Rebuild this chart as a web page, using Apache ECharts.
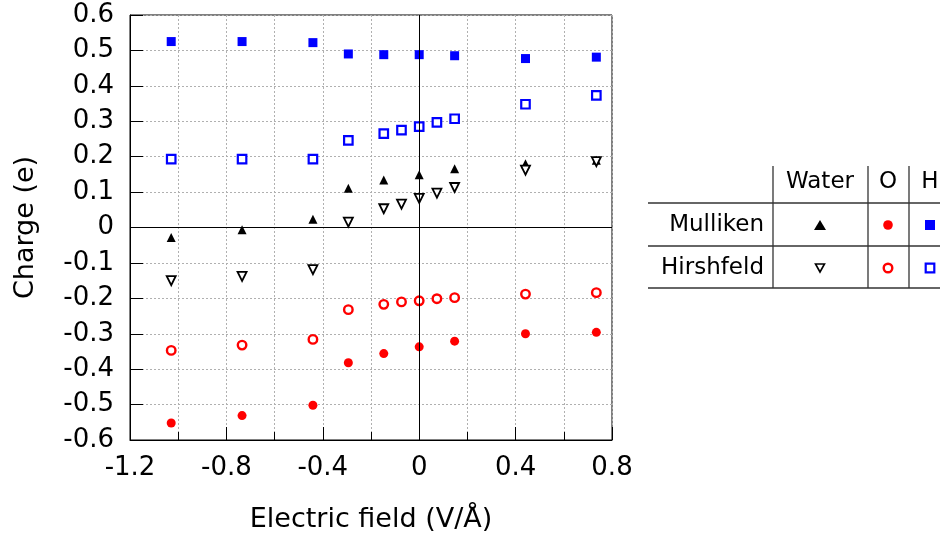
<!DOCTYPE html>
<html>
<head>
<meta charset="utf-8">
<script src="https://cdn.jsdelivr.net/npm/echarts@6/dist/echarts.min.js"></script>
<style>html,body{margin:0;padding:0;background:#fff;}#c{width:940px;height:535px;}</style>
</head>
<body>
<div id="c"></div>
<script>
// ---- data ----
var fieldMulliken = [-1.029, -0.735, -0.441, -0.294, -0.147, 0, 0.147, 0.441, 0.735];
var fieldHirshfeld = [-1.029, -0.735, -0.441, -0.294, -0.147, -0.0735, 0, 0.0735, 0.147, 0.441, 0.735];

var mullikenWater = [-0.028, -0.006, 0.023, 0.111, 0.134, 0.149, 0.166, 0.180, 0.190];
var mullikenO     = [-0.552, -0.531, -0.502, -0.382, -0.356, -0.337, -0.321, -0.300, -0.296];
var mullikenH     = [0.525, 0.525, 0.522, 0.490, 0.488, 0.488, 0.485, 0.477, 0.481];

var hirshfeldWater = [-0.150, -0.138, -0.119, 0.015, 0.053, 0.066, 0.082, 0.097, 0.113, 0.162, 0.186];
var hirshfeldO     = [-0.347, -0.332, -0.316, -0.232, -0.217, -0.210, -0.207, -0.201, -0.198, -0.188, -0.184];
var hirshfeldH     = [0.193, 0.193, 0.193, 0.246, 0.265, 0.275, 0.285, 0.297, 0.307, 0.348, 0.373];

var xTickLabels = ['-1.2', '-0.8', '-0.4', '0', '0.4', '0.8'];
var yTickLabels = ['-0.6', '-0.5', '-0.4', '-0.3', '-0.2', '-0.1', '0', '0.1', '0.2', '0.3', '0.4', '0.5', '0.6'];

var tableRows = ['Mulliken', 'Hirshfeld'];
var tableCols = ['Water', 'O', 'H'];

function pairs(xs, ys) { return xs.map(function (x, i) { return [x, ys[i]]; }); }
function findLabel(list, v) {
  for (var i = 0; i < list.length; i++) { if (Math.abs(parseFloat(list[i]) - v) < 1e-6) return list[i]; }
  return '';
}

var FONT = 'DejaVu Sans';
var BLUE = '#0000ff', RED = '#ff0000', BLACK = '#000000';
var gridLine = { show: true, lineStyle: { color: '#b0b0b0', type: [2, 2], width: 1 } };

var chart = echarts.init(document.getElementById('c'), null, { renderer: 'canvas' });

// legend table graphics
var TL = { x0: 648, x1: 940, hy: [203, 246, 288], vx: [773, 868, 909], vTop: 166,
           colX: [820, 888, 930], headY: 182, rowY: [225, 268], rowRight: 764 };
var LFONT = '23px "DejaVu Sans"';
var g = [];
TL.hy.forEach(function (y) {
  g.push({ type: 'line', shape: { x1: TL.x0, y1: y, x2: TL.x1, y2: y }, style: { stroke: '#333', lineWidth: 1.3 } });
});
TL.vx.forEach(function (x) {
  g.push({ type: 'line', shape: { x1: x, y1: TL.vTop, x2: x, y2: TL.hy[2] }, style: { stroke: '#333', lineWidth: 1.3 } });
});
tableCols.forEach(function (t, i) {
  g.push({ type: 'text', x: TL.colX[i], y: TL.headY, style: { text: t, font: LFONT, fill: '#000', align: 'center', verticalAlign: 'middle' } });
});
tableRows.forEach(function (t, i) {
  g.push({ type: 'text', x: TL.rowRight, y: TL.rowY[i], style: { text: t, font: LFONT, fill: '#000', align: 'right', verticalAlign: 'middle' } });
});
// row 1 (Mulliken) markers: filled
var r1 = TL.rowY[0], r2 = TL.rowY[1];
g.push({ type: 'polygon', shape: { points: [[TL.colX[0] - 6, r1 + 5], [TL.colX[0] + 6, r1 + 5], [TL.colX[0], r1 - 5]] }, style: { fill: BLACK } });
g.push({ type: 'circle', shape: { cx: TL.colX[1], cy: r1, r: 4.8 }, style: { fill: RED } });
g.push({ type: 'rect', shape: { x: TL.colX[2] - 5, y: r1 - 5, width: 10, height: 10 }, style: { fill: BLUE } });
// row 2 (Hirshfeld) markers: open
g.push({ type: 'polygon', shape: { points: [[TL.colX[0] - 4.5, r2 - 4], [TL.colX[0] + 4.5, r2 - 4], [TL.colX[0], r2 + 4]] }, style: { fill: '#fff', stroke: BLACK, lineWidth: 1.6 } });
g.push({ type: 'circle', shape: { cx: TL.colX[1], cy: r2, r: 4.3 }, style: { fill: '#fff', stroke: RED, lineWidth: 2.4 } });
g.push({ type: 'rect', shape: { x: TL.colX[2] - 4.3, y: r2 - 4.3, width: 8.6, height: 8.6 }, style: { fill: '#fff', stroke: BLUE, lineWidth: 2.2 } });

var option = {
  backgroundColor: '#fff',
  animation: false,
  textStyle: { fontFamily: FONT },
  grid: { left: 130, top: 15, width: 482, height: 425, outerBoundsMode: 'none', containLabel: false,
          show: true, borderColor: '#000', borderWidth: 1, backgroundColor: 'transparent' },
  xAxis: {
    type: 'value', min: -1.2, max: 0.8, interval: 0.4,
    name: 'Electric field (V/Å)', nameLocation: 'middle', nameGap: 66,
    nameTextStyle: { fontSize: 27, color: '#000', fontFamily: FONT },
    axisLine: { show: true, onZero: false, lineStyle: { color: '#000', width: 1 } },
    axisTick: { show: true, inside: true, length: 13, lineStyle: { color: '#000' } },
    minorTick: { show: true, splitNumber: 2, length: 8, lineStyle: { color: '#000' } },
    axisLabel: { fontSize: 26, color: '#000', margin: 15, fontFamily: FONT,
      formatter: function (v) { return findLabel(xTickLabels, v); } },
    splitLine: gridLine,
    minorSplitLine: gridLine
  },
  yAxis: {
    type: 'value', min: -0.6, max: 0.6, interval: 0.1,
    name: 'Charge (e)', nameLocation: 'middle', nameGap: 91, nameRotate: 90,
    nameTextStyle: { fontSize: 27, color: '#000', fontFamily: FONT },
    axisLine: { show: true, onZero: false, lineStyle: { color: '#000', width: 1 } },
    axisTick: { show: true, inside: true, length: 13, lineStyle: { color: '#000' } },
    axisLabel: { fontSize: 26, color: '#000', margin: 16, fontFamily: FONT,
      formatter: function (v) { return findLabel(yTickLabels, v); } },
    splitLine: gridLine
  },
  graphic: g,
  series: [
    {
      name: 'Mulliken H', type: 'scatter', data: pairs(fieldMulliken, mullikenH),
      symbol: 'rect', symbolSize: 9, itemStyle: { color: BLUE, opacity: 1 },
      markLine: {
        silent: true, symbol: 'none', animation: false,
        label: { show: false },
        lineStyle: { color: '#000', type: 'solid', width: 1 },
        data: [{ xAxis: 0 }, { yAxis: 0 }]
      }
    },
    {
      name: 'Hirshfeld H', type: 'scatter', data: pairs(fieldHirshfeld, hirshfeldH),
      symbol: 'rect', symbolSize: 8.5, itemStyle: { color: '#fff', borderColor: BLUE, borderWidth: 2.2, opacity: 1 }
    },
    {
      name: 'Mulliken Water', type: 'scatter', data: pairs(fieldMulliken, mullikenWater),
      symbol: 'triangle', symbolSize: 9, itemStyle: { color: BLACK, opacity: 1 }
    },
    {
      name: 'Hirshfeld Water', type: 'scatter', data: pairs(fieldHirshfeld, hirshfeldWater),
      symbol: 'triangle', symbolRotate: 180, symbolSize: 9,
      itemStyle: { color: '#fff', borderColor: BLACK, borderWidth: 1.8, opacity: 1 }
    },
    {
      name: 'Mulliken O', type: 'scatter', data: pairs(fieldMulliken, mullikenO),
      symbol: 'circle', symbolSize: 9, itemStyle: { color: RED, opacity: 1 }
    },
    {
      name: 'Hirshfeld O', type: 'scatter', data: pairs(fieldHirshfeld, hirshfeldO),
      symbol: 'circle', symbolSize: 8.5, itemStyle: { color: '#fff', borderColor: RED, borderWidth: 2.4, opacity: 1 }
    }
  ]
};
chart.setOption(option);
</script>
</body>
</html>
